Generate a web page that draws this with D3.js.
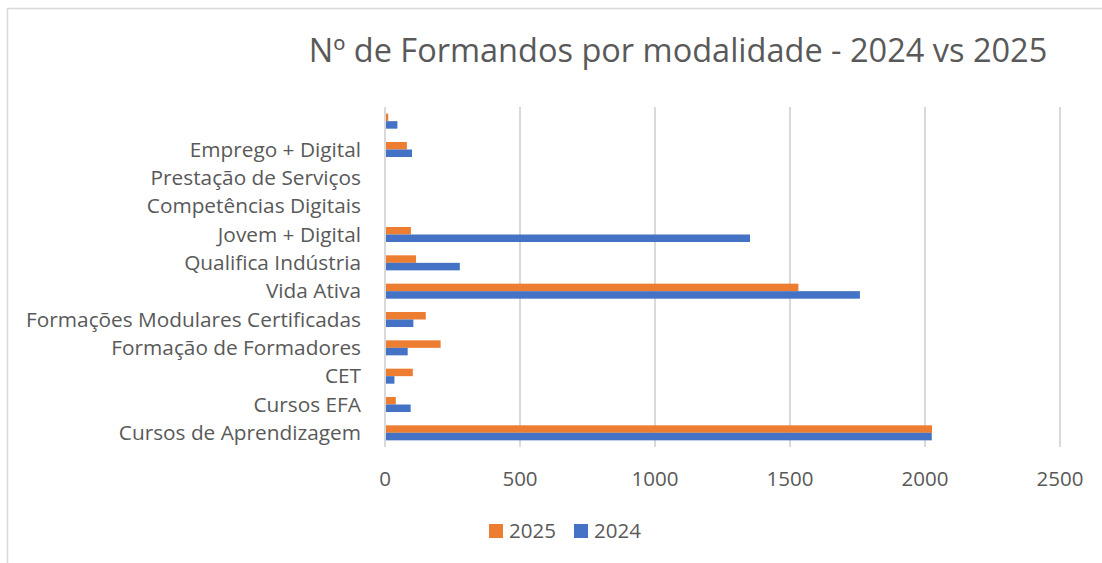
<!DOCTYPE html>
<html>
<head>
<meta charset="utf-8">
<script src="https://cdn.jsdelivr.net/npm/d3@7"></script>
<style>
    body { margin: 0; background: #fff; }
    text { font-family: "Open Sans", Lato, sans-serif; fill: #595959; }
</style>
</head>
<body>
<div id="chart"></div>
<script>
// Categories from bottom to top, as in the source chart (top one has no label)
const categories = [
    "Cursos de Aprendizagem",
    "Cursos EFA",
    "CET",
    "Formação de Formadores",
    "Formações Modulares Certificadas",
    "Vida Ativa",
    "Qualifica Indústria",
    "Jovem + Digital",
    "Competências Digitais",
    "Prestação de Serviços",
    "Emprego + Digital",
    ""
]
const values2024 = [2025, 95, 35, 84, 105, 1759, 277, 1352, 0, 0, 100, 46]
const values2025 = [2026, 40, 103, 206, 151, 1531, 115, 96, 0, 0, 81, 12]
const seriesNames = ["2025", "2024"]
const seriesColors = ["#ED7D31", "#4472C4"]
const xTicks = [0, 500, 1000, 1500, 2000, 2500]

const width = 1102
const height = 563
const plot = { left: 385, right: 1060, top: 107, bottom: 447 }

const svg = d3.select("#chart").append("svg")
    .attr("width", width)
    .attr("height", height)

// chart frame (only left/top edges visible in the crop)
svg.append("rect")
    .attr("x", 7.5)
    .attr("y", 8.5)
    .attr("width", width + 10)
    .attr("height", height + 10)
    .attr("fill", "none")
    .attr("stroke", "#D9D9D9")
    .attr("stroke-width", 1.5)

svg.append("text")
    .attr("x", 678)
    .attr("y", 62)
    .attr("text-anchor", "middle")
    .style("font-size", "32.5px")
    .text("Nº de Formandos por modalidade - 2024 vs 2025")

let x = d3.scaleLinear()
    .domain([0, 2500])
    .range([plot.left, plot.right])

let idx = d3.range(categories.length)
let y = d3.scaleBand()
    .domain(idx.slice().reverse())
    .range([plot.top, plot.bottom])
    .paddingInner(0.47)
    .paddingOuter(0.235)

let ySub = d3.scaleBand()
    .domain(seriesNames)
    .range([0, y.bandwidth()])

// gridlines
svg.append("g")
    .selectAll("line")
    .data(xTicks)
    .join("line")
        .attr("x1", d => x(d))
        .attr("x2", d => x(d))
        .attr("y1", plot.top)
        .attr("y2", plot.bottom)
        .attr("stroke", "#D9D9D9")
        .attr("stroke-width", 2)

// x tick labels
svg.append("g")
    .selectAll("text")
    .data(xTicks)
    .join("text")
        .attr("x", d => x(d))
        .attr("y", 486)
        .attr("text-anchor", "middle")
        .style("font-size", "20.5px")
        .text(d => d)

// category labels
svg.append("g")
    .selectAll("text")
    .data(idx)
    .join("text")
        .attr("x", 361)
        .attr("y", i => y(i) + y.bandwidth() / 2)
        .attr("dy", "0.35em")
        .attr("text-anchor", "end")
        .style("font-size", "20.8px")
        .text(i => categories[i])

// bars
const seriesValues = { "2025": values2025, "2024": values2024 }
seriesNames.forEach((s, si) => {
    svg.append("g")
        .selectAll("rect")
        .data(idx)
        .join("rect")
            .attr("x", x(0) + 1)
            .attr("y", i => y(i) + ySub(s))
            .attr("width", i => Math.max(0, x(seriesValues[s][i]) - x(0) - 1))
            .attr("height", ySub.bandwidth())
            .attr("fill", seriesColors[si])
})

// legend
const legendItems = [
    { name: "2025", color: seriesColors[0], x: 489 },
    { name: "2024", color: seriesColors[1], x: 574 }
]
const legend = svg.append("g")
legend.selectAll("rect")
    .data(legendItems)
    .join("rect")
        .attr("x", d => d.x)
        .attr("y", 524)
        .attr("width", 14)
        .attr("height", 14)
        .attr("fill", d => d.color)
legend.selectAll("text")
    .data(legendItems)
    .join("text")
        .attr("x", d => d.x + 20)
        .attr("y", 531)
        .attr("dy", "0.35em")
        .style("font-size", "20.5px")
        .text(d => d.name)
</script>
</body>
</html>
